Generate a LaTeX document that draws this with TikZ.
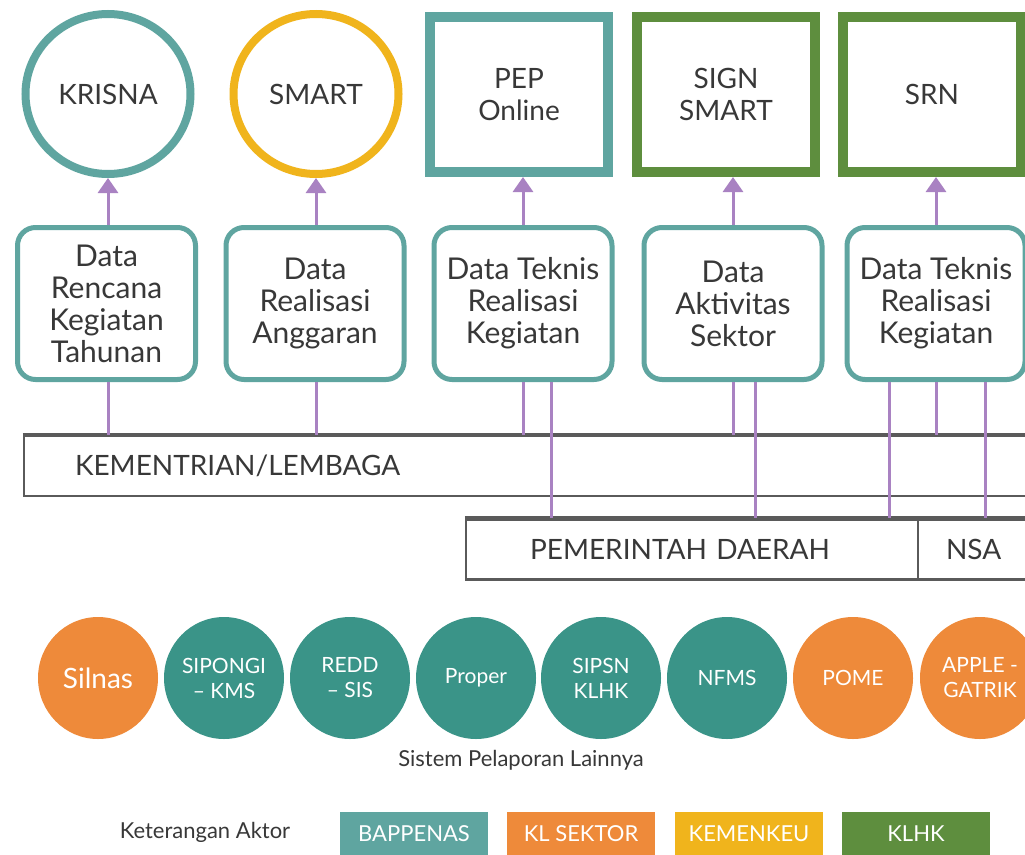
\documentclass[tikz,border=0pt]{standalone}
\usepackage{fontspec}
\setmainfont{Lato}
\usetikzlibrary{positioning,arrows.meta,shapes.geometric,calc}
\definecolor{bapteal}{HTML}{5FA5A0}
\definecolor{kemyellow}{HTML}{F0B41C}
\definecolor{klhkgreen}{HTML}{5E8E3E}
\definecolor{klorange}{HTML}{EE8A3A}
\definecolor{systeal}{HTML}{3A9488}
\definecolor{linkpurple}{HTML}{A982C2}
\definecolor{bargray}{HTML}{5A5A5A}
\definecolor{inkgray}{HTML}{383838}
\tikzset{
    every node/.style={font=\fontsize{28}{32}\selectfont,text=inkgray},
    topring/.style={ellipse,draw,line width=8pt,minimum width=165pt,minimum height=160pt,inner sep=0pt},
    topbox/.style={rectangle,draw,line width=10pt,minimum width=178pt,minimum height=155pt,align=center},
    databox/.style={rectangle,rounded corners=18pt,draw=bapteal,line width=5pt,minimum width=178pt,minimum height=152pt,align=center,inner sep=2pt,font=\fontsize{30}{32}\selectfont},
    bar/.style={rectangle,draw=bargray,line width=2.5pt,minimum height=60pt,align=left},
    syscirc/.style={ellipse,minimum width=120pt,minimum height=122pt,inner sep=0pt,align=center,text=white,font=\fontsize{21}{25}\selectfont},
    legendbox/.style={rectangle,minimum width=148pt,minimum height=44pt,text=white,font=\fontsize{22}{24}\selectfont},
    link/.style={draw=linkpurple,line width=3pt},
    feed/.style={link,-{Triangle[length=15pt,width=20pt]}}
}

\begin{document}
\begin{tikzpicture}[x=1pt,y=-1pt]
    \clip (0,0) rectangle (1025,854);
    \fill[white] (0,0) rectangle (1025,854);

    % reporting systems
    \node[topring,draw=bapteal] (krisna) at (108,94) {KRISNA};
    \node[topring,draw=kemyellow] (smart) at (316,94) {SMART};
    \node[topbox,draw=bapteal] (pep) at (519,94.5) {PEP\\Online};
    \node[topbox,draw=klhkgreen] (sign) at (726,94.5) {SIGN\\SMART};
    \node[topbox,draw=klhkgreen] (srn) at (932,94.5) {SRN};

    % data
    \node[databox] (d1) at (106.5,303.5) {Data\\Rencana\\Kegiatan\\Tahunan};
    \node[databox] (d2) at (315,303.5) {Data\\Realisasi\\Anggaran};
    \node[databox] (d3) at (523,303.5) {Data Teknis\\Realisasi\\Kegiatan};
    \node[databox] (d4) at (733,303.5) {Data\\Aktivitas\\Sektor};
    \node[databox] (d5) at (936,303.5) {Data Teknis\\Realisasi\\Kegiatan};

    % actors
    \node[bar,minimum width=1020pt,inner xsep=51pt,text width=918pt] (kl) at (534,466) {KEMENTRIAN/LEMBAGA};
    \node[bar,minimum width=452pt,inner xsep=64pt,text width=324pt] (pd) at (692,549.5) {PEMERINTAH DAERAH};
    \node[bar,minimum width=122pt,inner xsep=28pt,text width=66pt] (nsa) at (979,549.5) {NSA};
    \draw[bargray,line width=4pt] (kl.north west) -- (kl.north east);
    \draw[bargray,line width=4pt] (pd.north west) -- (nsa.north east);

    \draw[feed] ([xshift=1.5pt]d1.north) -- ([xshift=1.5pt]d1.north |- krisna.south);
    \draw[feed] ([xshift=1pt]d2.north) -- ([xshift=1pt]d2.north |- smart.south);
    \draw[feed] (d3.north) -- (d3.north |- pep.south);
    \draw[feed] (d4.north) -- (d4.north |- sign.south);
    \draw[feed] (d5.north) -- (d5.north |- srn.south);

    \draw[link] ([xshift=1.5pt]d1.south) -- ([xshift=1.5pt]d1.south |- kl.north);
    \draw[link] ([xshift=1pt]d2.south) -- ([xshift=1pt]d2.south |- kl.north);
    \draw[link] (d3.south) -- (d3.south |- kl.north);
    \draw[link] ([xshift=28pt]d3.south) -- ([xshift=28pt]d3.south |- pd.north);
    \draw[link] (d4.south) -- (d4.south |- kl.north);
    \draw[link] ([xshift=22pt]d4.south) -- ([xshift=22pt]d4.south |- pd.north);
    \draw[link] ([xshift=-47pt]d5.south) -- ([xshift=-47pt]d5.south |- pd.north);
    \draw[link] (d5.south) -- (d5.south |- kl.north);
    \draw[link] ([xshift=49pt]d5.south) -- ([xshift=49pt]d5.south |- nsa.north);

    % other reporting systems
    \node[syscirc,fill=klorange,font=\fontsize{28}{30}\selectfont] (silnas) at (98,678) {Silnas};
    \node[syscirc,fill=systeal] (sipongi) at (224,678) {SIPONGI\\-- KMS};
    \node[syscirc,fill=systeal] (redd) at (350,678) {REDD\\-- SIS};
    \node[syscirc,fill=systeal] (proper) at (476,678) {Proper};
    \node[syscirc,fill=systeal] (sipsn) at (601,678) {SIPSN\\KLHK};
    \node[syscirc,fill=systeal] (nfms) at (727,678) {NFMS};
    \node[syscirc,fill=klorange] (pome) at (853,678) {POME};
    \node[syscirc,fill=klorange] (apple) at (980,678) {APPLE -\\GATRIK};
    \node[font=\fontsize{22}{24}\selectfont] (lainnya) at (521,760) {Sistem Pelaporan Lainnya};

    % legend
    \node[font=\fontsize{22}{24}\selectfont] (ket) at (205,832) {Keterangan Aktor};
    \node[legendbox,fill=bapteal] (lg1) at (414,834) {BAPPENAS};
    \node[legendbox,fill=klorange] (lg2) at (581,834) {KL SEKTOR};
    \node[legendbox,fill=kemyellow] (lg3) at (749,834) {KEMENKEU};
    \node[legendbox,fill=klhkgreen] (lg4) at (916,834) {KLHK};
\end{tikzpicture}
\end{document}
